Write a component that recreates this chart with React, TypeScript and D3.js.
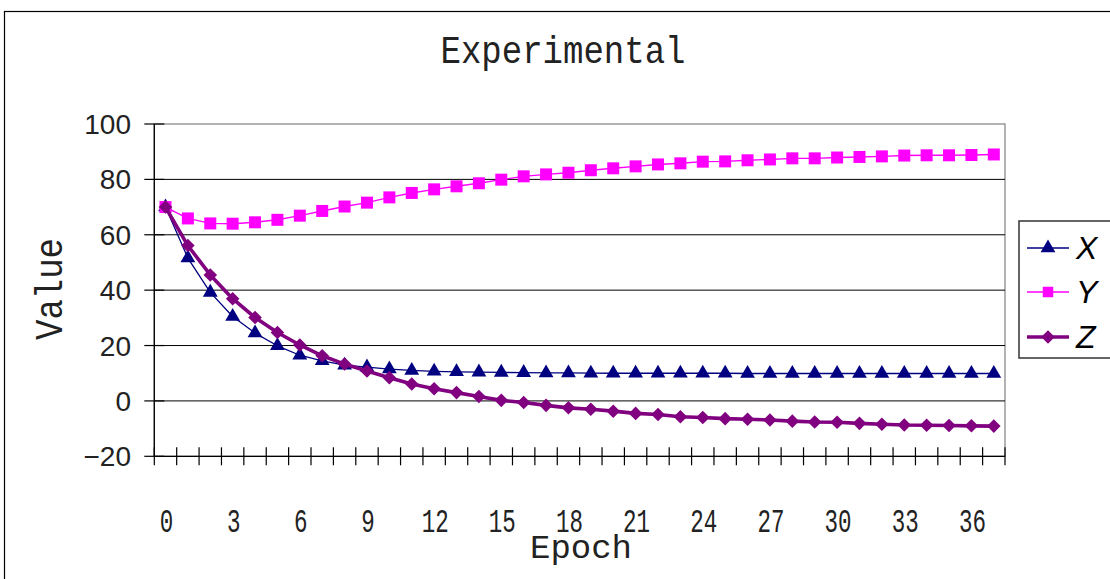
import React, { useRef, useEffect } from 'react';
import * as d3 from 'd3';

const epochs = d3.range(0, 38);
const xTickLabels = ['0', '3', '6', '9', '12', '15', '18', '21', '24', '27', '30', '33', '36'];
const yTicks = [-20, 0, 20, 40, 60, 80, 100];

const seriesX = [70, 51.6, 39.2, 30.5, 24.5, 19.9, 16.5, 14.5, 12.9, 12.2, 11.5, 11.0, 10.7, 10.5, 10.4, 10.3, 10.2, 10.1, 10.1, 10.0, 10.0, 10.0, 10.0, 10.0, 10.0, 10.0, 9.9, 9.9, 9.9, 9.9, 9.9, 9.9, 9.9, 9.9, 9.9, 9.9, 9.9, 9.9];
const seriesY = [70.0, 65.9, 64.1, 64.0, 64.5, 65.4, 66.9, 68.6, 70.2, 71.6, 73.5, 75.1, 76.4, 77.5, 78.6, 79.9, 81.1, 81.8, 82.4, 83.3, 84.0, 84.7, 85.4, 85.8, 86.4, 86.5, 86.9, 87.2, 87.6, 87.6, 87.9, 88.1, 88.3, 88.6, 88.7, 88.7, 88.8, 89.0];
const seriesZ = [70, 56.1, 45.5, 36.9, 30.1, 24.7, 20.2, 16.3, 13.3, 10.8, 8.4, 6.1, 4.4, 3.0, 1.6, 0.2, -0.6, -1.6, -2.5, -3.0, -3.7, -4.5, -4.9, -5.7, -6.0, -6.4, -6.6, -6.9, -7.3, -7.6, -7.7, -8.1, -8.4, -8.7, -8.8, -8.9, -9.0, -9.1];

const seriesNames = ['X', 'Y', 'Z'];

const App = () => {
  const svgRef = useRef(null);

  useEffect(() => {
    const svg = d3.select(svgRef.current);
    svg.selectAll('*').remove();

    const left = 154.3, right = 1005, top = 124, bottom = 456.3;

    const x = d3.scaleBand<number>().domain(epochs).range([left, right]).paddingInner(0).paddingOuter(0);
    const y = d3.scaleLinear().domain([-20, 100]).range([bottom, top]);
    const cx = (i: number) => (x(i) as number) + x.bandwidth() / 2;

    // chart frame
    svg.append('rect')
      .attr('x', 4.5).attr('y', 11.5).attr('width', 1200).attr('height', 700)
      .attr('fill', '#fff').attr('stroke', '#000').attr('stroke-width', 1.2);

    // plot border
    svg.append('rect')
      .attr('x', left).attr('y', top).attr('width', right - left).attr('height', bottom - top)
      .attr('fill', 'none').attr('stroke', '#808080').attr('stroke-width', 1.2);

    // gridlines
    svg.append('g').selectAll('line')
      .data(yTicks.filter(d => d > -20 && d < 100))
      .enter().append('line')
      .attr('x1', left).attr('x2', right)
      .attr('y1', d => y(d)).attr('y2', d => y(d))
      .attr('stroke', '#000').attr('stroke-width', 1);

    // y axis
    svg.append('line')
      .attr('x1', left).attr('x2', left).attr('y1', top).attr('y2', bottom)
      .attr('stroke', '#000').attr('stroke-width', 1.3);
    svg.append('g').selectAll('line')
      .data(yTicks).enter().append('line')
      .attr('x1', left - 10).attr('x2', left + 10)
      .attr('y1', d => y(d)).attr('y2', d => y(d))
      .attr('stroke', '#000').attr('stroke-width', 1.2);
    svg.append('g').selectAll('text')
      .data(yTicks).enter().append('text')
      .attr('x', 131).attr('y', d => y(d) + 10)
      .attr('text-anchor', 'end')
      .style('font-family', '"Liberation Sans", Arial, sans-serif')
      .style('font-size', '28px')
      .attr('fill', '#222')
      .text(d => (d < 0 ? '\u2212' + Math.abs(d) : String(d)));

    // x axis
    svg.append('line')
      .attr('x1', left).attr('x2', right).attr('y1', bottom).attr('y2', bottom)
      .attr('stroke', '#000').attr('stroke-width', 1.3);
    const boundaries = epochs.map(i => x(i) as number).concat([right]);
    svg.append('g').selectAll('line')
      .data(boundaries).enter().append('line')
      .attr('x1', d => d).attr('x2', d => d)
      .attr('y1', bottom - 9).attr('y2', bottom + 9)
      .attr('stroke', '#000').attr('stroke-width', 1.2);
    svg.append('g').selectAll('text')
      .data(xTickLabels).enter().append('text')
      .attr('x', d => cx(+d) + 1).attr('y', 532)
      .attr('text-anchor', 'middle')
      .attr('textLength', d => d.length * 13.5)
      .attr('lengthAdjust', 'spacingAndGlyphs')
      .style('font-family', '"Liberation Mono", "Courier New", monospace')
      .style('font-size', '33px')
      .attr('fill', '#222')
      .text(d => d);

    // titles
    svg.append('text')
      .attr('x', 563).attr('y', 63).attr('text-anchor', 'middle')
      .attr('textLength', 245).attr('lengthAdjust', 'spacingAndGlyphs')
      .style('font-family', '"Liberation Mono", "Courier New", monospace')
      .style('font-size', '38px').attr('fill', '#222')
      .text('Experimental');
    svg.append('text')
      .attr('x', 581).attr('y', 558).attr('text-anchor', 'middle')
      .attr('textLength', 102).attr('lengthAdjust', 'spacingAndGlyphs')
      .style('font-family', '"Liberation Mono", "Courier New", monospace')
      .style('font-size', '34px').attr('fill', '#222')
      .text('Epoch');
    svg.append('text')
      .attr('transform', 'translate(62,289) rotate(-90)')
      .attr('text-anchor', 'middle')
      .attr('textLength', 102).attr('lengthAdjust', 'spacingAndGlyphs')
      .style('font-family', '"Liberation Mono", "Courier New", monospace')
      .style('font-size', '38px').attr('fill', '#222')
      .text('Value');

    const series = [
      { name: 'X', values: seriesX, color: '#000080', width: 1.3, symbol: d3.symbolTriangle, size: 95, rot: 0 },
      { name: 'Y', values: seriesY, color: '#FF00FF', width: 1.4, symbol: d3.symbolSquare, size: 144, rot: 0 },
      { name: 'Z', values: seriesZ, color: '#800080', width: 3.6, symbol: d3.symbolSquare, size: 92, rot: 45 },
    ];

    const line = d3.line<number>().x((d, i) => cx(i)).y(d => y(d));

    series.forEach(s => {
      const g = svg.append('g');
      g.append('path')
        .datum(s.values)
        .attr('d', line)
        .attr('fill', 'none')
        .attr('stroke', s.color)
        .attr('stroke-width', s.width)
        .attr('stroke-linejoin', 'round');
      g.selectAll('path.pt')
        .data(s.values).enter().append('path')
        .attr('class', 'pt')
        .attr('d', d3.symbol().type(s.symbol).size(s.size)())
        .attr('transform', (d, i) => `translate(${cx(i)},${y(d)}) rotate(${s.rot})`)
        .attr('fill', s.color);
    });

    // legend
    const legend = svg.append('g');
    legend.append('rect')
      .attr('x', 1019).attr('y', 221).attr('width', 200).attr('height', 137)
      .attr('fill', '#fff').attr('stroke', '#333').attr('stroke-width', 1.5);
    const legendY = [248, 292, 337];
    series.forEach((s, i) => {
      const ly = legendY[i];
      legend.append('line')
        .attr('x1', 1027).attr('x2', 1069).attr('y1', ly).attr('y2', ly)
        .attr('stroke', s.color).attr('stroke-width', s.width);
      legend.append('path')
        .attr('d', d3.symbol().type(s.symbol).size(s.name === 'Y' ? 110 : s.size)())
        .attr('transform', `translate(1048,${ly}) rotate(${s.rot})`)
        .attr('fill', s.color);
      legend.append('text')
        .attr('x', 1076).attr('y', ly + 11)
        .style('font-family', '"Liberation Sans", Arial, sans-serif')
        .style('font-size', '32px').style('font-style', 'italic')
        .attr('fill', '#000')
        .text(seriesNames[i]);
    });

    return () => {
      d3.select(svgRef.current).selectAll('*').remove();
    };
  }, []);

  return (
    <div>
      <svg ref={svgRef} width={1110} height={579} style={{ position: 'absolute', left: 0, top: 0 }}></svg>
    </div>
  );
};

export default App;
